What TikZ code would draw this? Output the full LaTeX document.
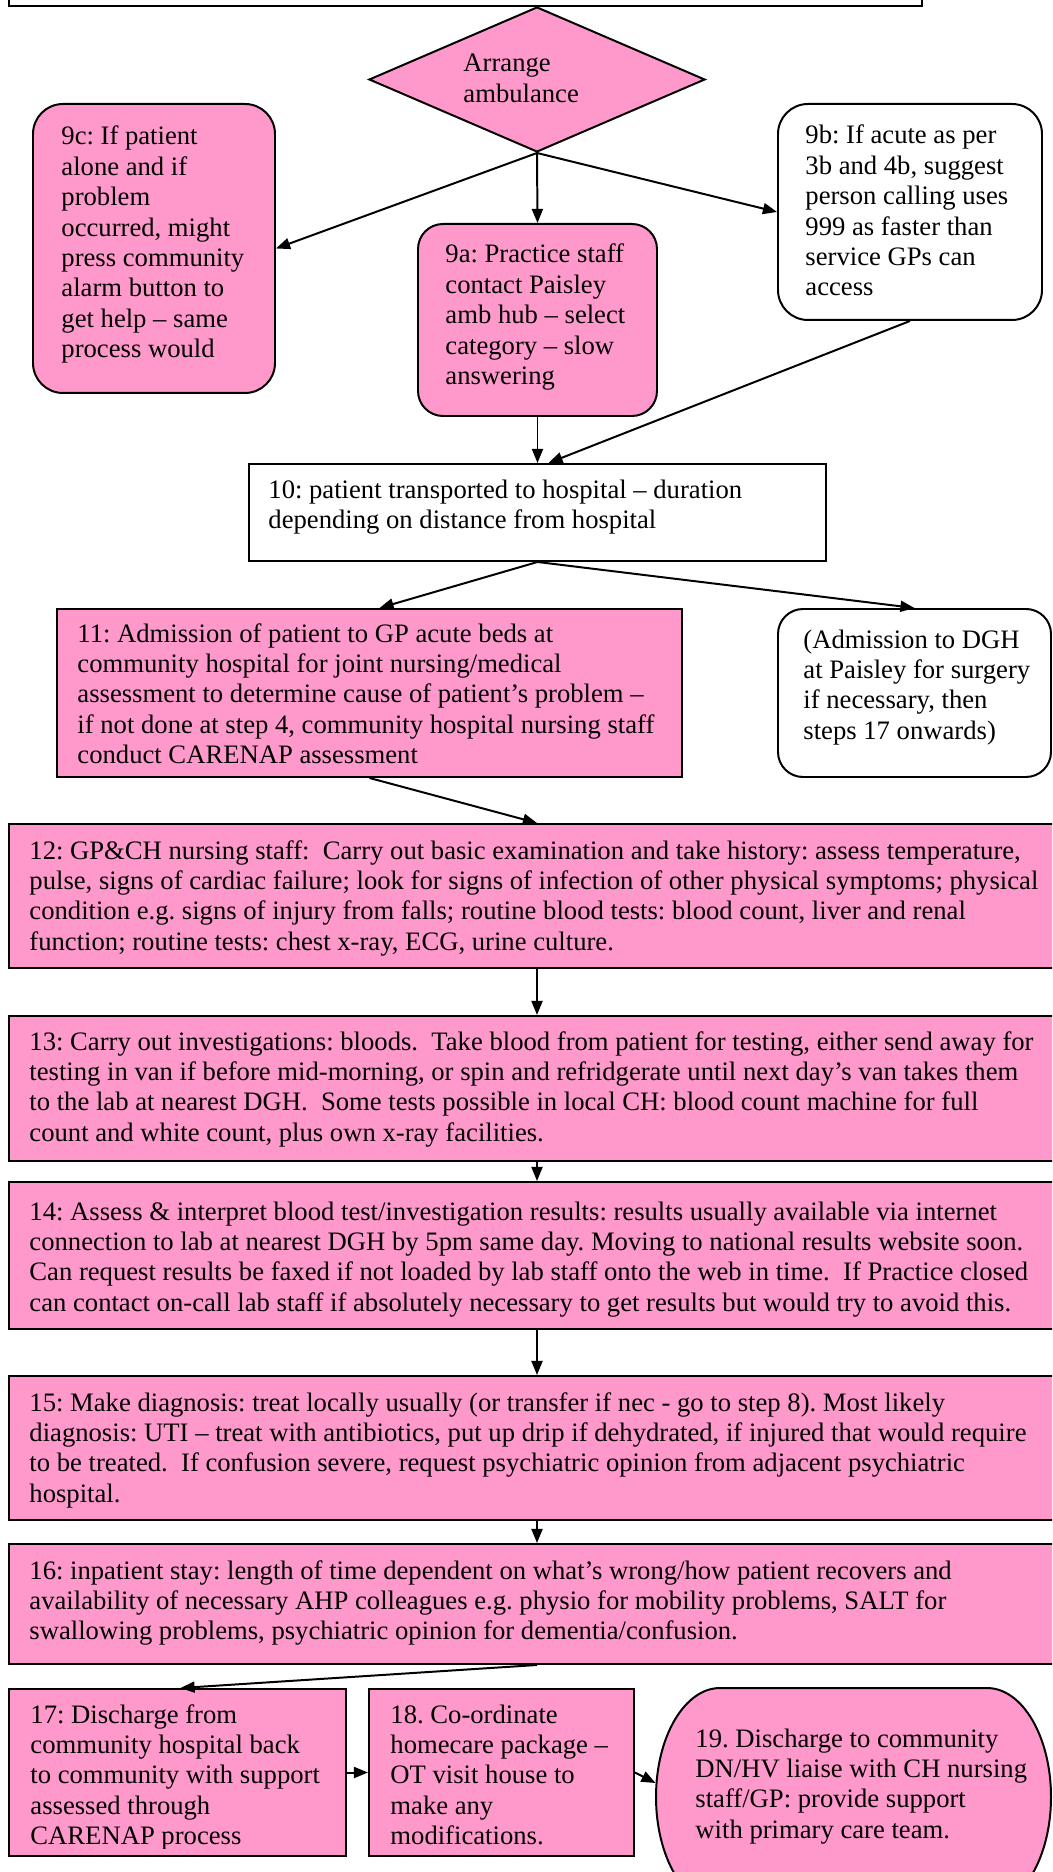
\documentclass[tikz,border=0pt]{standalone}
\usepackage{fontspec}
\setmainfont{Liberation Serif}
\usetikzlibrary{shapes.geometric,arrows.meta,calc}

% one drawing unit
\newdimen\px \px=0.454pt
\definecolor{boxpink}{HTML}{FF99CC}
% left-aligned block of lines whose baseline is that of its first line
\newcommand\txtlines[1]{\begin{tabular}[t]{@{}l@{}}#1\end{tabular}}

\tikzset{
  box/.style={draw=black, line width=0.9pt, rectangle, inner sep=0pt, anchor=north west},
  pinkbox/.style={box, fill=boxpink},
  whitebox/.style={box, fill=white},
  txt/.style={anchor=base west, inner sep=0pt, font=\fontsize{12.1}{13.8}\selectfont\frenchspacing},
  arr/.style={line width=0.9pt, -{Triangle[length=6.4pt,width=5pt]}},
}

\begin{document}
\begin{tikzpicture}[x=\px, y=-\px]
\useasboundingbox (0,0) rectangle (1052,1872);
\clip (0,0) rectangle (1052,1872);

% previous step (only its lower edge is in view)
\node[whitebox, anchor=south west, minimum width=913\px, minimum height=60\px] (btop) at (8,7) {};

% decision
\node[diamond, draw=black, line width=0.9pt, fill=boxpink, inner sep=0pt,
      minimum width=336\px, minimum height=145\px] (d) at (537,79.5) {};
\node[txt] (td) at (463,72) {\txtlines{Arrange\\ambulance}};

% step 9 options
\node[pinkbox, rounded corners=30\px, minimum width=242\px, minimum height=289\px] (b9c) at (32,103) {};
\node[txt] (t9c) at (61,145) {\txtlines{9c: If patient\\alone and if\\problem\\occurred, might\\press community\\alarm button to\\get help – same\\process would}};

\node[pinkbox, rounded corners=25\px, minimum width=239\px, minimum height=192\px] (b9a) at (417,223) {};
\node[txt] (t9a) at (445,263) {\txtlines{9a: Practice staff\\contact Paisley\\amb hub – select\\category – slow\\answering}};

\node[whitebox, rounded corners=30\px, minimum width=264\px, minimum height=216\px] (b9b) at (777,103) {};
\node[txt] (t9b) at (805,144) {\txtlines{9b: If acute as per\\3b and 4b, suggest\\person calling uses\\999 as faster than\\service GPs can\\access}};

% step 10
\node[whitebox, minimum width=577\px, minimum height=97\px] (b10) at (248,463) {};
\node[txt] (t10) at (268,498) {\txtlines{10: patient transported to hospital – duration\\depending on distance from hospital}};

% step 11 and the alternative
\node[pinkbox, minimum width=625\px, minimum height=168\px] (b11) at (56,608) {};
\node[txt] (t11) at (77,642) {\txtlines{11: Admission of patient to GP acute beds at\\community hospital for joint nursing/medical\\assessment to determine cause of patient’s problem –\\if not done at step 4, community hospital nursing staff\\conduct CARENAP assessment}};

\node[whitebox, rounded corners=25\px, minimum width=273\px, minimum height=168\px] (badm) at (777,608) {};
\node[txt] (tadm) at (803,648) {\txtlines{(Admission to DGH\\at Paisley for surgery\\if necessary, then\\steps 17 onwards)}};

% steps 12 to 16
\node[pinkbox, minimum width=1062\px, minimum height=144\px] (b12) at (8,823) {};
\node[txt] (t12) at (29,859) {\txtlines{12: GP\&CH nursing staff:\ \ Carry out basic examination and take history: assess temperature,\\pulse, signs of cardiac failure; look for signs of infection of other physical symptoms; physical\\condition e.g. signs of injury from falls; routine blood tests: blood count, liver and renal\\function; routine tests: chest x-ray, ECG, urine culture.}};

\node[pinkbox, minimum width=1062\px, minimum height=145\px] (b13) at (8,1015) {};
\node[txt] (t13) at (29,1050) {\txtlines{13: Carry out investigations: bloods.\ \ Take blood from patient for testing, either send away for\\testing in van if before mid-morning, or spin and refridgerate until next day’s van takes them\\to the lab at nearest DGH.\ \ Some tests possible in local CH: blood count machine for full\\count and white count, plus own x-ray facilities.}};

\node[pinkbox, minimum width=1062\px, minimum height=147\px] (b14) at (8,1181) {};
\node[txt] (t14) at (29,1220) {\txtlines{14: Assess \& interpret blood test/investigation results: results usually available via internet\\connection to lab at nearest DGH by 5pm same day. Moving to national results website soon.\\Can request results be faxed if not loaded by lab staff onto the web in time.\ \ If Practice closed\\can contact on-call lab staff if absolutely necessary to get results but would try to avoid this.}};

\node[pinkbox, minimum width=1062\px, minimum height=144\px] (b15) at (8,1375) {};
\node[txt] (t15) at (29,1411) {\txtlines{15: Make diagnosis: treat locally usually (or transfer if nec - go to step 8). Most likely\\diagnosis: UTI – treat with antibiotics, put up drip if dehydrated, if injured that would require\\to be treated.\ \ If confusion severe, request psychiatric opinion from adjacent psychiatric\\hospital.}};

\node[pinkbox, minimum width=1062\px, minimum height=120\px] (b16) at (8,1543) {};
\node[txt] (t16) at (29,1579) {\txtlines{16: inpatient stay: length of time dependent on what’s wrong/how patient recovers and\\availability of necessary AHP colleagues e.g. physio for mobility problems, SALT for\\swallowing problems, psychiatric opinion for dementia/confusion.}};

% steps 17 to 19
\node[pinkbox, minimum width=337\px, minimum height=167\px] (b17) at (8,1688) {};
\begin{scope}
  \clip (b17.north west) rectangle ([yshift=9\px]b17.south east);
  \node[txt] (t17) at (30,1723) {\txtlines{17: Discharge from\\community hospital back\\to community with support\\assessed through\\CARENAP process}};
\end{scope}

\node[pinkbox, minimum width=265\px, minimum height=167\px] (b18) at (368,1688) {};
\node[txt] (t18) at (390,1723) {\txtlines{18. Co-ordinate\\homecare package –\\OT visit house to\\make any\\modifications.}};

\node[box, draw=none, minimum width=395\px, minimum height=218\px] (b19) at (656,1688) {};
\draw[line width=0.9pt, fill=boxpink]
  (720,1688) -- (987,1688)
  .. controls (1022.35,1688) and (1051,1736.8) .. (1051,1797)
  .. controls (1051,1857.2) and (1022.35,1906) .. (987,1906)
  -- (720,1906)
  .. controls (684.65,1906) and (656,1857.2) .. (656,1797)
  .. controls (656,1736.8) and (684.65,1688) .. (720,1688) -- cycle;
\coordinate (c19) at (655.5,1783);
\node[txt] (t19) at (695,1747) {\txtlines{19. Discharge to community\\DN/HV liaise with CH nursing\\staff/GP: provide support\\with primary care team.}};

% connectors
\draw[arr] (d.south) -- (b9c.east);
\draw[arr] (d.south) -- (b9a.north);
\draw[arr] (d.south) -- (b9b.west);
\draw[arr] (b9a.south) -- (b10.north);
\draw[arr] (b9b.south) -- ([xshift=11\px]b10.north);
\draw[arr] (b10.south) -- ([xshift=10\px]b11.north);
\draw[arr] (b10.south) -- (badm.north);
\draw[arr] (b11.south) -- (b12.north -| d.south);
\draw[arr] (b12.south -| d.south) -- (b13.north -| d.south);
\draw[arr] (b13.south -| d.south) -- (b14.north -| d.south);
\draw[arr] (b14.south -| d.south) -- (b15.north -| d.south);
\draw[arr] (b15.south -| d.south) -- (b16.north -| d.south);
\draw[arr] (b16.south -| d.south) -- ([xshift=3\px]b17.north);
\draw[arr] (b17.east) -- (b18.west);
\draw[arr] (b18.east) -- (c19);
\end{tikzpicture}
\end{document}
